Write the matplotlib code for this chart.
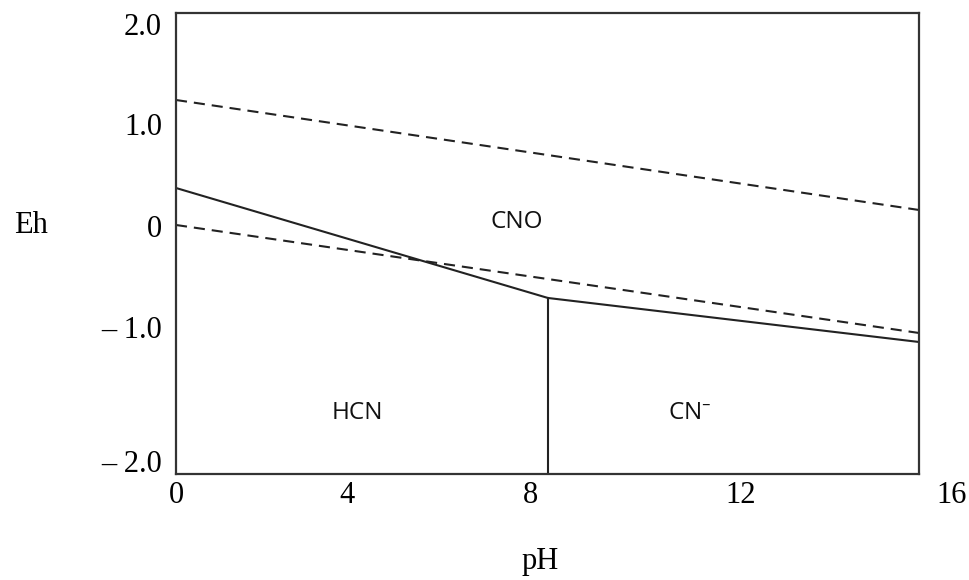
import matplotlib

matplotlib.use("Agg")
import matplotlib.pyplot as plt

plt.rcParams["lines.scale_dashes"] = False

# Eh-pH diagram for cyanide
ph_limits = (0, 15.32)
eh_limits = (-2.49, 2.12)

xtick_pos = [0, 3.53, 7.30, 11.65]
xtick_labels = ["0", "4", "8", "12"]
x_last_pos, x_last_label = 15.99, "16"

ytick_pos = [2.01, 1.01, -0.01, -1.02, -2.36]
ytick_labels = ["2.0", "1.0", "0", "\u2013 1.0", "\u2013 2.0"]

# water stability lines (dashed)
o2_ph = [0, 15.32]
o2_eh = [1.25, 0.15]
h2_ph = [0, 15.32]
h2_eh = [0.0, -1.08]

# CNO- / HCN / CN- boundaries (solid)
cno_ph = [0, 7.67, 15.32]
cno_eh = [0.37, -0.73, -1.17]
pka_ph = [7.67, 7.67]
pka_eh = [-0.73, -2.49]

regions = ["CNO", "HCN", "CN$^{\u2013}$"]
region_ph = [7.03, 3.74, 10.6]
region_eh = [0.03, -1.88, -1.88]

serif = "Liberation Serif"

fig = plt.figure(figsize=(9.69, 5.80), dpi=100)
ax = fig.add_axes([0.1816, 0.1828, 0.7668, 0.7948])

ax.plot(o2_ph, o2_eh, color="#222222", lw=1.5, dashes=(8, 5))
ax.plot(h2_ph, h2_eh, color="#222222", lw=1.5, dashes=(8, 5))
ax.plot(cno_ph, cno_eh, color="#222222", lw=1.5)
ax.plot(pka_ph, pka_eh, color="#222222", lw=1.5)

for name, x, y in zip(regions, region_ph, region_eh):
    ax.text(x, y, name, ha="center", va="center", fontsize=17.5,
            family="Open Sans", color="#111111")

ax.set_xlim(*ph_limits)
ax.set_ylim(*eh_limits)
ax.set_xticks(xtick_pos)
ax.set_xticklabels(xtick_labels, family=serif, fontsize=22)
ax.set_yticks(ytick_pos)
ax.set_yticklabels(ytick_labels, family=serif, fontsize=22)
ax.tick_params(length=0, pad=5)
ax.tick_params(axis="y", pad=10)

# the "16" label sits past the right frame in the original
ax.text(x_last_pos, -0.046, x_last_label, transform=ax.get_xaxis_transform(),
        ha="center", va="center", family=serif, fontsize=22, clip_on=False)

for sp in ax.spines.values():
    sp.set_linewidth(1.6)
    sp.set_color("#333333")

fig.text(31 / 969, 1 - 225 / 580, "Eh", ha="center", va="center",
         family=serif, fontsize=22)
fig.text(540 / 969, 1 - 561 / 580, "pH", ha="center", va="center",
         family=serif, fontsize=22)

fig.savefig("out.png", dpi=100)
